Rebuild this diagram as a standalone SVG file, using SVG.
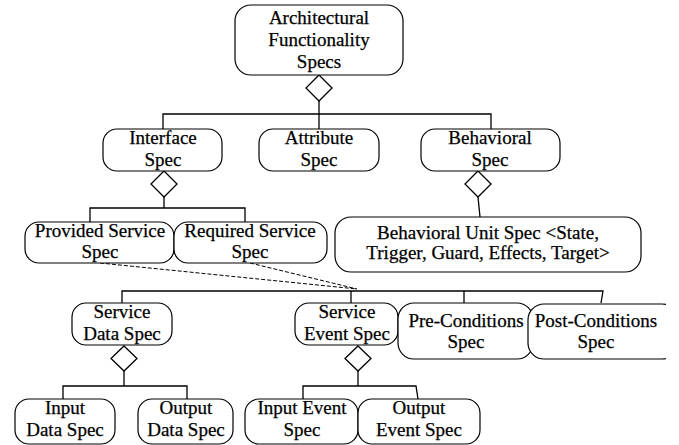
<svg xmlns="http://www.w3.org/2000/svg" width="679" height="445" viewBox="0 0 679 445">
<style>
.box{fill:#fff;stroke:#000;stroke-width:1.2}
.ln{fill:none;stroke:#000;stroke-width:1.3}
.dash{fill:none;stroke:#000;stroke-width:1;stroke-dasharray:4 2}
.dia{fill:#fff;stroke:#000;stroke-width:1.3}
.t{font-family:'Liberation Serif','Times New Roman',Times,'DejaVu Serif',serif;font-size:19px;fill:#000;stroke:#000;stroke-width:0.25;text-anchor:middle}
</style>
<defs>
<clipPath id="edge"><rect x="0" y="0" width="666" height="445"/></clipPath>
</defs>
<rect width="679" height="445" fill="#fff"/>
<g id="connectors">
<line class="ln" x1="319" y1="101" x2="319" y2="129"/>
<polyline class="ln" points="163,129 163,114 491,114 491,129"/>
<line class="ln" x1="164" y1="197" x2="164" y2="208"/>
<polyline class="ln" points="90,222 90,208 245,208 245,222"/>
<line class="ln" x1="478" y1="197" x2="480" y2="217"/>
<line class="dash" x1="100" y1="263" x2="357" y2="289"/>
<line class="dash" x1="250" y1="263" x2="357" y2="289"/>
<polyline class="ln" points="122,303 122,291 603,291 601,303"/>
<line class="ln" x1="351" y1="291" x2="351" y2="303"/>
<line class="ln" x1="464" y1="291" x2="464" y2="303"/>
<line class="ln" x1="124" y1="371" x2="124" y2="386"/>
<polyline class="ln" points="63,399 63,386 187,386 187,399"/>
<line class="ln" x1="358" y1="371" x2="358" y2="386"/>
<polyline class="ln" points="303,399 303,386 416,386 418,399"/>
<polygon class="dia" points="319,75 332,88 319,101 306,88"/>
<polygon class="dia" points="164,171 177,184 164,197 151,184"/>
<polygon class="dia" points="478,171 491,184 478,197 465,184"/>
<polygon class="dia" points="124,346 137,358.5 124,371 111,358.5"/>
<polygon class="dia" points="358,346 371,358.5 358,371 345,358.5"/>
</g>
<g id="n-arch">
<rect class="box" x="235" y="5" width="168" height="70" rx="16"/>
<text class="t" x="319" y="24">Architectural</text>
<text class="t" x="319" y="46">Functionality</text>
<text class="t" x="319" y="68">Specs</text>
</g>
<g id="n-interface">
<rect class="box" x="103" y="129" width="119" height="42" rx="14"/>
<text class="t" x="163" y="144">Interface</text>
<text class="t" x="163" y="166">Spec</text>
</g>
<g id="n-attribute">
<rect class="box" x="259" y="129" width="120" height="42" rx="14"/>
<text class="t" x="319" y="144">Attribute</text>
<text class="t" x="319" y="166">Spec</text>
</g>
<g id="n-behavioral">
<rect class="box" x="421" y="129" width="139" height="42" rx="14"/>
<text class="t" x="490" y="144">Behavioral</text>
<text class="t" x="490" y="166">Spec</text>
</g>
<g id="n-provided">
<rect class="box" x="25" y="222" width="149" height="41" rx="14"/>
<text class="t" x="100" y="237">Provided Service</text>
<text class="t" x="100" y="258">Spec</text>
</g>
<g id="n-required">
<rect class="box" x="174" y="222" width="153" height="41" rx="14"/>
<text class="t" x="250" y="237">Required Service</text>
<text class="t" x="250" y="258">Spec</text>
</g>
<g id="n-behavioral-unit">
<rect class="box" x="335" y="217" width="306" height="55" rx="16"/>
<text class="t" x="488" y="239">Behavioral Unit Spec &lt;State,</text>
<text class="t" x="488" y="259">Trigger, Guard, Effects, Target&gt;</text>
</g>
<g id="n-service-data">
<rect class="box" x="72" y="303" width="100" height="42" rx="14"/>
<text class="t" x="122" y="318">Service</text>
<text class="t" x="122" y="340">Data Spec</text>
</g>
<g id="n-service-event">
<rect class="box" x="295" y="303" width="103" height="42" rx="14"/>
<text class="t" x="347" y="318">Service</text>
<text class="t" x="347" y="340">Event Spec</text>
</g>
<g id="n-pre">
<rect class="box" x="398" y="303" width="135" height="56" rx="16"/>
<text class="t" x="466" y="327">Pre-Conditions</text>
<text class="t" x="466" y="348">Spec</text>
</g>
<g id="n-post" clip-path="url(#edge)">
<rect class="box" x="528" y="304" width="150" height="55" rx="16"/>
<text class="t" x="596" y="327">Post-Conditions</text>
<text class="t" x="596" y="348">Spec</text>
</g>
<g id="n-input-data">
<rect class="box" x="15" y="399" width="100" height="45" rx="14"/>
<text class="t" x="65" y="414">Input</text>
<text class="t" x="65" y="436">Data Spec</text>
</g>
<g id="n-output-data">
<rect class="box" x="138" y="399" width="95" height="45" rx="14"/>
<text class="t" x="186" y="414">Output</text>
<text class="t" x="186" y="436">Data Spec</text>
</g>
<g id="n-input-event">
<rect class="box" x="245" y="399" width="113" height="45" rx="14"/>
<text class="t" x="302" y="414">Input Event</text>
<text class="t" x="302" y="436">Spec</text>
</g>
<g id="n-output-event">
<rect class="box" x="358" y="399" width="122" height="45" rx="14"/>
<text class="t" x="419" y="414">Output</text>
<text class="t" x="419" y="436">Event Spec</text>
</g>
</svg>
